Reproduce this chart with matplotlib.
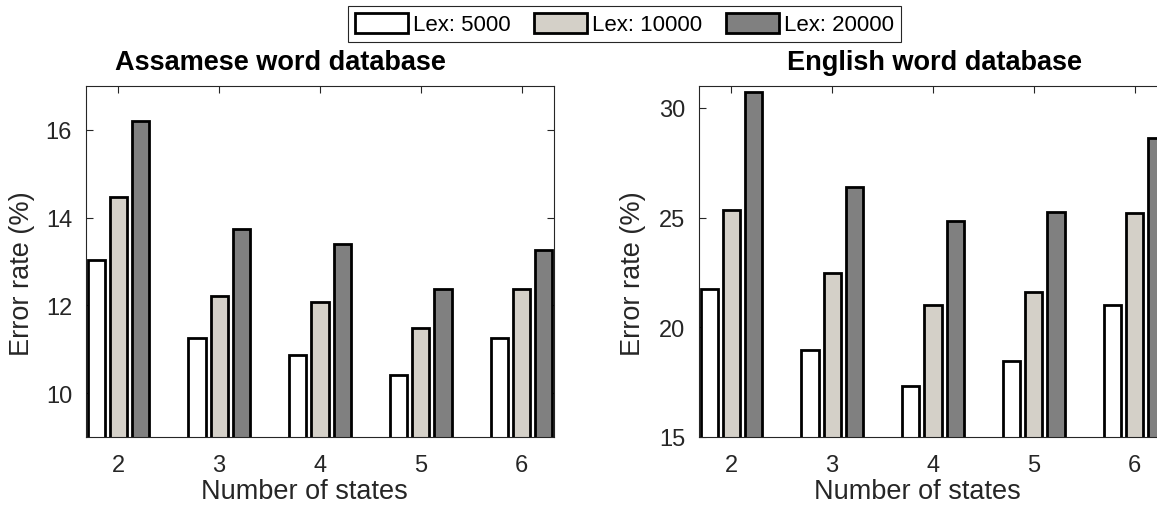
import matplotlib

matplotlib.use("Agg")
import matplotlib.pyplot as plt
import numpy as np
from matplotlib.patches import Patch

plt.rcParams["font.family"] = ["Liberation Sans", "DejaVu Sans"]

# ── Data ──────────────────────────────────────────────
STATES = [2, 3, 4, 5, 6]
SERIES = ["Lex: 5000", "Lex: 10000", "Lex: 20000"]
COLORS = ["#FFFFFF", "#D4D0C8", "#808080"]

assamese_5000 = [13.03, 11.25, 10.87, 10.42, 11.25]
assamese_10000 = [14.47, 12.22, 12.08, 11.48, 12.37]
assamese_20000 = [16.21, 13.73, 13.41, 12.37, 13.27]

english_5000 = [21.73, 18.95, 17.33, 18.47, 21.0]
english_10000 = [25.33, 22.49, 21.0, 21.61, 25.21]
english_20000 = [30.73, 26.40, 24.83, 25.26, 28.63]

W, H = 1157, 510
fig = plt.figure(figsize=(W / 100, H / 100), dpi=100)

# axes box in pixels: left, right spine, top, bottom
AX_W = 468
ax1 = fig.add_axes([86 / W, (H - 438) / H, AX_W / W, 351 / H])
ax2 = fig.add_axes([699 / W, (H - 438) / H, AX_W / W, 351 / H])

x = np.arange(len(STATES)) + STATES[0]
offsets = [-0.22, 0.0, 0.22]
width = 0.17
EDGE_LW = 2.0
INK = "#262626"


def draw(ax, series, ylim, yticks, title, title_x, title_ha):
    for vals, off, col in zip(series, offsets, COLORS):
        ax.bar(x + off, vals, width, color=col, edgecolor="black",
               linewidth=EDGE_LW, zorder=2)
    ax.set_ylim(*ylim)
    ax.set_xlim(1.68, 6.32)
    ax.set_yticks(yticks)
    ax.set_xticks(x)
    ax.set_xticklabels([str(s) for s in STATES])
    ax.tick_params(direction="in", top=True, right=True, length=5,
                   labelsize=17, color=INK, labelcolor=INK)
    ax.tick_params(axis="x", pad=12)
    ax.tick_params(axis="y", pad=10)
    for sp in ax.spines.values():
        sp.set_color(INK)
        sp.set_linewidth(0.8)
    ax.set_title(title, fontsize=19.5, fontweight="bold", x=title_x,
                 ha=title_ha, pad=12)
    ax.set_xlabel("Number of states", fontsize=19.5, color=INK)
    ax.set_ylabel("Error rate (%)", fontsize=19.5, color=INK)
    ax.xaxis.set_label_coords(0.467, -0.118)


draw(ax1, [assamese_5000, assamese_10000, assamese_20000], (9, 17),
     [10, 12, 14, 16], "Assamese word database", 0.062, "left")
draw(ax2, [english_5000, english_10000, english_20000], (15, 31),
     [15, 20, 25, 30], "English word database", 0.504, "center")
ax1.yaxis.set_label_coords(-0.108, 0.469)
ax2.yaxis.set_label_coords(-0.114, 0.469)

handles = [Patch(facecolor=c, edgecolor="black", linewidth=EDGE_LW)
           for c in COLORS]
leg = fig.legend(handles, SERIES, loc="upper left", ncol=3,
                 bbox_to_anchor=(348 / W, 1 - 7 / H), fontsize=16,
                 frameon=True, fancybox=False, framealpha=1,
                 edgecolor=INK, handlelength=2.4, handleheight=1.0,
                 handletextpad=0.23, columnspacing=1.04, borderpad=0.3,
                 borderaxespad=0)
leg.get_frame().set_linewidth(0.8)

fig.savefig("out.png", dpi=100)
